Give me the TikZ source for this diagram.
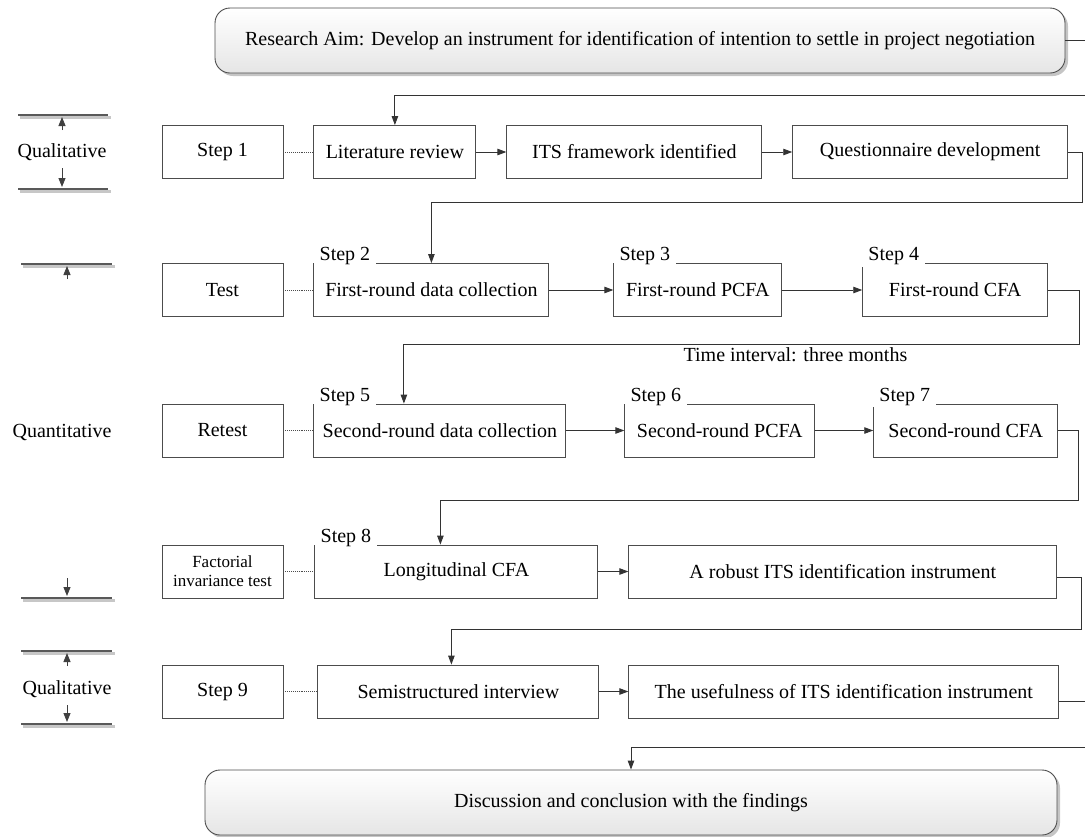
\documentclass[tikz,border=0pt]{standalone}
\usepackage{fontspec}
\setmainfont{Liberation Serif}
\usetikzlibrary{positioning}
\usetikzlibrary{arrows.meta}
\usetikzlibrary{shadows}
\tikzset{node distance=30pt,
    x=1pt, y=-1pt,
    every node/.style={font=\fontsize{20}{24}\selectfont},
    box/.style={
        draw=black!70,
        line width=0.9pt,
        minimum height=53pt,
        inner sep=2pt},
    aimbox/.style={
        draw=black!70,
        line width=0.9pt,
        rounded corners=15pt,
        top color=white,
        bottom color=black!10,
        drop shadow={shadow xshift=3pt, shadow yshift=-3pt, fill=black!45},
        minimum height=65pt},
    steplabel/.style={
        fill=white,
        anchor=south west,
        inner xsep=6pt,
        inner ysep=2pt,
        yshift=-4pt},
    link/.style={
        draw=black!80,
        line width=0.9pt,
        -{Triangle[length=9pt,width=6.5pt]}},
    dots/.style={
        draw=black!70,
        line width=0.9pt,
        densely dotted},
    level/.style={draw=black!65, line width=1.2pt},
    levelshade/.style={draw=black!22, line width=2.5pt},
    levelarrow/.style={
        draw=black!75,
        line width=0.9pt,
        -{Triangle[length=9pt,width=7pt]}}}
\newcommand{\levelline}[3]{%
    \draw[levelshade] (#1+2,#3+2.5) -- (#2+3,#3+2.5);
    \draw[level] (#1,#3) -- (#2,#3);}

\begin{document}
\begin{tikzpicture}
        \useasboundingbox (0,0) rectangle (1085,836);
        % aim
        \node[aimbox, minimum width=850pt] (aim) at (640,40.5)
            {Research Aim: Develop an instrument for identification of intention to settle in project negotiation};
        % row 1
        \node[box, minimum width=121pt] (s1) at (222.5,152) {Step 1};
        \node[box, minimum width=162pt, right=of s1] (lit) {Literature review};
        \node[box, minimum width=255pt, right=of lit] (its) {ITS framework identified};
        \node[box, minimum width=275pt, right=of its] (quest) {Questionnaire development};
        % row 2
        \node[box, minimum width=121pt] (test) at (222.5,290) {Test};
        \node[box, minimum width=235pt, right=of test] (frd) {First-round data collection};
        \node[box, minimum width=168pt, right=64pt of frd] (frp) {First-round PCFA};
        \node[box, minimum width=185pt, right=80pt of frp] (frc) {First-round CFA};
        % row 3
        \node[box, minimum width=121pt] (retest) at (222.5,430.5) {Retest};
        \node[box, minimum width=252pt, right=of retest] (srd) {Second-round data collection};
        \node[box, minimum width=190pt, right=58pt of srd] (srp) {Second-round PCFA};
        \node[box, minimum width=184pt, right=58pt of srp] (src) {Second-round CFA};
        % row 4
        \node[box, minimum width=121pt, align=center, font=\fontsize{17}{19}\selectfont] (fit) at (222.5,571.5)
            {Factorial\\invariance test};
        \node[box, minimum width=283pt, right=31pt of fit] (lcfa) {Longitudinal CFA};
        \node[box, minimum width=428pt, right=of lcfa] (rob) {A robust ITS identification instrument};
        % row 5
        \node[box, minimum width=121pt] (s9) at (222.5,691.5) {Step 9};
        \node[box, minimum width=281pt, right=34pt of s9] (semi) {Semistructured interview};
        \node[box, minimum width=430pt, right=29pt of semi] (use) {The usefulness of ITS identification instrument};
        % conclusion
        \node[aimbox, minimum width=852pt] (concl) at (631,802.5)
            {Discussion and conclusion with the findings};

        % step labels
        \node[steplabel] (st2) at (frd.north west) {Step 2};
        \node[steplabel] (st3) at (frp.north west) {Step 3};
        \node[steplabel] (st4) at (frc.north west) {Step 4};
        \node[steplabel] (st5) at (srd.north west) {Step 5};
        \node[steplabel] (st6) at (srp.north west) {Step 6};
        \node[steplabel] (st7) at (src.north west) {Step 7};
        \node[steplabel] (st8) at (lcfa.north west) {Step 8};

        % rows
        \draw[dots] (s1) -- (lit);
        \draw[link] (lit) -- (its);
        \draw[link] (its) -- (quest);
        \draw[dots] (test) -- (frd);
        \draw[link] (frd) -- (frp);
        \draw[link] (frp) -- (frc);
        \draw[dots] (retest) -- (srd);
        \draw[link] (srd) -- (srp);
        \draw[link] (srp) -- (src);
        \draw[dots] (fit) -- (lcfa);
        \draw[link] (lcfa) -- (rob);
        \draw[dots] (s9) -- (semi);
        \draw[link] (semi) -- (use);

        % turns between rows
        \coordinate (c0) at (1100,95);
        \coordinate (c1) at (1082,202);
        \coordinate (c2) at (1079,344);
        \coordinate (c3) at (1078,500);
        \coordinate (c4) at (1081,629);
        \coordinate (c5) at (1100,747);
        \draw[link] (aim.east) -| (c0) -| (lit.north);
        \draw[link] (quest.east) -| (c1) -| (frd.north);
        \draw[link] (frc.east) -| (c2) -| node[pos=0.21, below] {Time interval: three months} ([xshift=-36pt]srd.north);
        \draw[link] (src.east) -| (c3) -| ([xshift=-16pt]lcfa.north);
        \draw[link] ([yshift=-6pt]rob.east) -| (c4) -| ([xshift=-7pt]semi.north);
        \draw[link] ([yshift=-10pt]use.east) -| (c5) -| (concl.north);

        % left side
        \levelline{18}{108}{115}
        \draw[levelarrow] (62,130) -- (62,117);
        \node (ql1) at (62,152) {Qualitative};
        \draw[levelarrow] (62,168) -- (62,187);
        \levelline{18}{108}{189}
        \levelline{21}{112}{264}
        \draw[levelarrow] (67,279) -- (67,266);
        \node (qn) at (62,432) {Quantitative};
        \draw[levelarrow] (67,578) -- (67,596);
        \levelline{21}{112}{598}
        \levelline{21}{112}{651}
        \draw[levelarrow] (67,666) -- (67,653);
        \node (ql2) at (67,689) {Qualitative};
        \draw[levelarrow] (67,705) -- (67,722);
        \levelline{21}{112}{724}
\end{tikzpicture}
\end{document}
